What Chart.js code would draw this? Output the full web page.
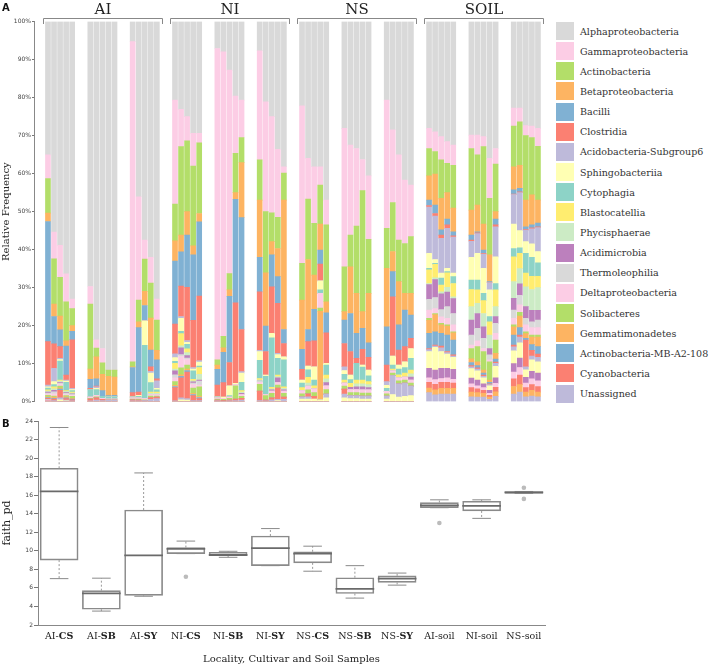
<!DOCTYPE html>
<html>
<head>
<meta charset="utf-8">
<script src="https://cdn.jsdelivr.net/npm/chart.js@4.4.1/dist/chart.umd.min.js"></script>
<style>
  html, body { margin: 0; padding: 0; background: #fff; }
  body { width: 710px; height: 668px; position: relative; overflow: hidden; }
  #chartA { position: absolute; left: 0; top: 0; }
  #chartB { position: absolute; left: 0; top: 405px; }
  #legend { position: absolute; left: 556px; top: 21px; font-family: 'DejaVu Serif', serif; font-size: 9.5px; color: #333; }
  .item { height: 20.15px; display: flex; align-items: center; white-space: nowrap; }
  .box { width: 18px; height: 18px; margin-right: 6px; flex: none; }
</style>
</head>
<body>
<canvas id="chartA" width="550" height="410"></canvas>
<div id="legend"></div>
<canvas id="chartB" width="550" height="263"></canvas>
<script>
// ---- panel A: relative frequency of bacterial classes, 5 samples per locality/cultivar ----
const groups = ['AI', 'NI', 'NS', 'SOIL'];
const subgroups = ['AI-CS', 'AI-SB', 'AI-SY', 'NI-CS', 'NI-SB', 'NI-SY', 'NS-CS', 'NS-SB', 'NS-SY', 'AI-soil', 'NI-soil', 'NS-soil'];

const taxa = ['Alphaproteobacteria', 'Gammaproteobacteria', 'Actinobacteria', 'Betaproteobacteria', 'Bacilli',
  'Clostridia', 'Acidobacteria-Subgroup6', 'Sphingobacteriia', 'Cytophagia', 'Blastocatellia', 'Phycisphaerae',
  'Acidimicrobia', 'Thermoleophilia', 'Deltaproteobacteria', 'Solibacteres', 'Gemmatimonadetes',
  'Actinobacteria-MB-A2-108', 'Cyanobacteria', 'Unassigned'];
const taxaColors = ['#d9d9d9', '#fccde5', '#b3de69', '#fdb462', '#80b1d3', '#fb8072', '#bebada', '#ffffb3',
  '#8dd3c7', '#ffed6f', '#ccebc5', '#bc80bd', '#d9d9d9', '#fccde5', '#b3de69', '#fdb462', '#80b1d3', '#fb8072', '#bebada'];
// smaller classes that are not named in the legend
const minorTaxa = ['Minor class 1', 'Minor class 2', 'Minor class 3', 'Minor class 4', 'Minor class 5', 'Minor class 6'];
const minorColors = ['#ffffb3', '#bc80bd', '#fccde5', '#fb8072', '#fdb462', '#bebada'];

// values in %, one line per group (AI, NI, NS, SOIL), 15 samples each
const alpha = [35.1, 55.4, 58.9, 66.4, 73.0, 69.7, 83.7, 86.0, 91.7, 91.7, 5.3, 46.1, 57.5, 62.0, 73.0,
  20.7, 23.1, 25.0, 29.4, 29.4, 7.1, 8.0, 12.8, 19.6, 20.7, 7.7, 21.1, 25.0, 33.6, 38.2,
  22.2, 36.0, 38.2, 38.2, 47.0, 28.1, 32.5, 33.4, 36.3, 40.6, 20.7, 28.5, 35.1, 41.7, 43.0,
  28.1, 29.0, 30.3, 31.6, 32.5, 29.9, 29.9, 30.3, 36.0, 33.4, 22.8, 22.8, 27.5, 27.5, 28.1];
const gamma = [6.2, 7.0, 8.4, 7.3, 2.5, 4.6, 2.2, 3.8, 0, 0, 84.2, 27.2, 5.0, 6.8, 5.5,
  27.3, 9.8, 6.4, 8.6, 2.5, 81.9, 74.8, 53.5, 15.1, 9.8, 28.7, 28.9, 25.3, 17.9, 1.7,
  41.4, 10.7, 14.9, 4.8, 6.5, 36.4, 23.7, 20.4, 8.2, 16.7, 33.7, 19.1, 22.4, 16.7, 13.6,
  5.3, 5.2, 6.1, 5.7, 5.3, 3.5, 5.2, 2.6, 10.5, 4.1, 4.7, 3.6, 2.6, 3.0, 4.7];
const actino = [9.1, 11.9, 10.2, 10.3, 4.5, 17.1, 2.3, 3.0, 1.6, 1.8, 1.3, 5.7, 8.5, 9.2, 8.0,
  9.7, 23.3, 18.6, 21.0, 18.6, 1.4, 3.0, 4.3, 10.3, 6.6, 10.6, 16.1, 7.6, 8.2, 7.1,
  9.7, 15.9, 13.6, 10.3, 20.2, 11.8, 8.3, 17.7, 31.8, 14.2, 10.5, 12.9, 10.9, 13.1, 14.9,
  7.2, 5.9, 10.1, 7.7, 11.3, 16.2, 13.2, 20.4, 14.9, 12.5, 10.7, 11.4, 17.0, 15.1, 14.2];
const beta = [2.2, 3.3, 3.6, 1.4, 1.5, 2.7, 5.8, 4.3, 5.1, 4.8, 0.2, 1.5, 3.7, 8.4, 2.5,
  5.3, 4.4, 6.2, 2.4, 2.2, 1.1, 1.2, 1.7, 1.8, 14.5, 15.0, 14.0, 3.5, 7.4, 34.0,
  12.9, 18.4, 9.0, 6.8, 2.9, 2.2, 12.3, 10.5, 4.4, 13.0, 15.4, 5.3, 11.4, 4.4, 5.7,
  6.4, 8.2, 8.3, 7.0, 6.2, 6.6, 7.0, 6.8, 7.0, 2.0, 6.1, 6.1, 7.0, 7.9, 6.0];
const bacilli = [31.6, 7.2, 4.4, 7.6, 2.2, 2.4, 1.9, 1.5, 0.3, 0.4, 6.6, 17.0, 4.0, 4.4, 5.0,
  16.6, 9.0, 13.7, 17.2, 19.5, 4.1, 8.0, 17.4, 27.2, 29.4, 9.1, 6.7, 8.4, 7.0, 3.7,
  5.3, 3.2, 8.3, 3.7, 5.3, 6.2, 10.0, 6.6, 5.5, 3.8, 10.1, 6.6, 6.6, 9.6, 6.1,
  1.4, 2.2, 1.4, 1.5, 1.1, 1.3, 0.3, 0.9, 0.2, 1.5, 1.1, 0.9, 0.7, 0.8, 1.0];
const clostridia = [11.4, 6.4, 3.1, 1.3, 12.8, 0.3, 0.2, 0, 0, 0, 1.1, 0.8, 0, 1.2, 0.5,
  7.8, 8.0, 14.0, 12.4, 17.0, 3.1, 3.8, 6.1, 21.2, 11.1, 15.4, 6.2, 12.2, 13.2, 3.5,
  2.8, 6.4, 6.8, 4.4, 8.0, 6.1, 6.2, 1.3, 4.2, 3.4, 4.3, 15.6, 4.0, 4.0, 2.7,
  0.4, 0.7, 0.8, 0.9, 0.3, 0.3, 0.2, 0.2, 0.1, 0.5, 0.1, 0.2, 0.2, 0.2, 0.2];
const acidoSg6 = [0.5, 3.5, 0.3, 0.3, 0.3, 0, 0.4, 0, 0, 0, 0, 0, 0, 0.5, 2.0,
  1.0, 0.5, 0.5, 0.4, 0.4, 0, 0, 0, 0, 0.4, 0.3, 0, 0, 0.3, 0,
  0, 0, 0, 0, 0, 1.0, 0, 0, 0, 0, 1.0, 0, 0, 0, 0,
  12.2, 11.4, 9.2, 10.5, 9.5, 4.2, 5.2, 3.7, 1.9, 7.9, 7.8, 10.0, 3.0, 4.0, 6.3];
const sphingo = [0.3, 0.8, 0.4, 0.3, 0.3, 0, 0.3, 0, 0, 0, 0, 0.3, 6.5, 2.5, 0.4,
  1.0, 3.4, 0.5, 0.5, 1.0, 0, 0.3, 2.6, 0.3, 2.4, 2.3, 0.3, 1.2, 1.0, 0.8,
  0.8, 1.0, 3.5, 2.4, 0.5, 1.0, 1.2, 0, 0.5, 1.5, 0.8, 2.4, 1.0, 1.5, 2.6,
  3.9, 1.0, 1.3, 0.9, 0.9, 6.0, 7.0, 6.6, 7.0, 7.0, 6.4, 4.5, 3.1, 3.5, 3.0];
const cytophagia = [0.5, 0.6, 5.0, 2.2, 0.4, 2.0, 1.5, 0.5, 0.6, 0.6, 0.3, 0.4, 14.0, 2.5, 0.6,
  0.5, 0.6, 1.2, 2.2, 0.4, 0.3, 0, 0.4, 0, 2.2, 4.8, 4.8, 13.0, 4.4, 7.1,
  1.2, 2.0, 1.5, 0.9, 2.6, 1.5, 1.0, 4.4, 3.4, 1.5, 0.8, 1.0, 1.5, 1.5, 3.1,
  0.4, 0.3, 1.8, 0.3, 1.8, 2.5, 2.6, 1.9, 1.4, 1.7, 2.2, 1.5, 5.2, 5.0, 3.5];
const blasto = [0.3, 0.5, 0.3, 0.2, 0.2, 0, 0, 0, 0, 0, 0, 0, 0, 0.3, 0.3,
  1.5, 3.2, 1.0, 0.4, 1.8, 0, 0, 0, 0, 0.4, 0.4, 0, 0.4, 0.4, 0.4,
  0.8, 1.5, 0.8, 0, 1.0, 0.8, 1.0, 1.0, 1.0, 0.8, 0, 0.5, 0.8, 1.0, 1.0,
  3.6, 3.5, 1.8, 3.8, 3.5, 4.5, 3.5, 3.4, 3.5, 4.4, 6.5, 4.0, 3.6, 3.5, 3.0];
const phycis = [0.3, 0.4, 0.3, 0.3, 0.2, 0, 0, 0, 0, 0, 0, 0, 0, 0.3, 0.3,
  0.5, 0.5, 0.8, 0.3, 1.5, 0, 0, 0, 0, 0.3, 0.3, 0, 0.3, 0.3, 0.4,
  0, 0.8, 0, 0, 1.0, 0, 0, 0.8, 0.8, 0.8, 0, 0, 0, 0, 0.8,
  0.3, 0.5, 0.5, 1.3, 0.5, 3.5, 2.7, 3.5, 3.5, 2.6, 4.4, 4.0, 5.2, 5.5, 6.0];
const acidimicrobia = [0.2, 0.4, 0.2, 0.2, 0.2, 0, 0, 0, 0, 0, 0, 0, 0, 0, 0,
  1.0, 1.8, 0.6, 0.3, 0.3, 0, 0, 0, 0, 0.3, 0, 0, 0.3, 1.3, 0.3,
  0, 0, 0, 0, 0.8, 0, 0.6, 0.7, 0.8, 0.6, 0, 0, 0, 0, 0.8,
  3.9, 4.7, 4.2, 3.8, 3.9, 4.0, 3.9, 3.0, 1.7, 1.8, 3.1, 3.0, 3.1, 3.0, 2.5];
const thermo = [0.3, 0.5, 0.3, 0.3, 0.2, 0, 0, 0, 0, 0, 0, 0, 0, 0, 0,
  0.8, 0.5, 0.4, 0.3, 1.0, 0, 0, 0, 0, 0, 0.3, 0, 0, 0, 0,
  0, 0, 0, 0, 0, 0, 0, 0, 0, 0, 0, 0, 0, 0, 0,
  2.8, 2.9, 1.9, 3.1, 3.0, 2.6, 3.3, 2.7, 1.3, 2.6, 2.2, 2.5, 1.7, 1.5, 2.0];
const delta = [0.3, 0.6, 0.5, 0.3, 0.3, 0.3, 0.4, 0.3, 0.3, 0.3, 0.3, 0.3, 0.3, 0.4, 0.4,
  1.0, 3.0, 1.5, 1.0, 0.5, 0.3, 0.3, 0.3, 0.3, 0.5, 0.5, 0.3, 0.6, 0.6, 0.6,
  0.8, 1.0, 1.0, 3.9, 1.0, 0.8, 0.8, 0.8, 0.8, 0.8, 0.6, 0.6, 0.8, 0.8, 0.8,
  2.2, 1.3, 1.7, 1.7, 1.8, 0.9, 1.5, 0.8, 0.5, 1.8, 1.7, 2.0, 1.8, 2.0, 2.0];
const solibacteres = [0.4, 0.3, 0.5, 0.3, 0.5, 0.2, 0.3, 0, 0, 0, 0.2, 0.3, 0.2, 0.4, 0.3,
  1.0, 1.8, 1.0, 1.4, 2.5, 0.3, 0.3, 0.5, 3.5, 0.5, 1.8, 1.2, 1.2, 0.8, 1.0,
  0.8, 1.0, 1.0, 0.8, 1.2, 0.8, 0.8, 0.8, 0.8, 0.8, 0.6, 0.6, 0.8, 0.8, 0.8,
  0.5, 0.3, 0.4, 0.3, 0.3, 2.7, 4.0, 4.9, 4.8, 3.5, 0.5, 1.0, 0.5, 0.5, 0.5];
const gemma = [0.2, 0.3, 0.3, 0.3, 0.2, 0, 0, 0, 0, 0, 0, 0, 0, 0, 0,
  0.3, 0.4, 0.4, 0.3, 0.3, 0, 0, 0, 0, 0, 0, 0, 0, 0, 0,
  0, 0, 0, 23.3, 0, 0, 0, 0, 0, 0, 0, 0, 0, 0, 0,
  3.4, 4.5, 2.2, 2.4, 1.9, 1.0, 1.0, 0.8, 0.6, 1.5, 2.2, 3.0, 1.2, 2.0, 2.5];
const mbA2 = [0.2, 0.2, 0.3, 0.2, 0.2, 0, 0, 0, 0, 0, 0, 0, 0, 0, 0,
  0.3, 0.4, 0.4, 0.3, 0.3, 0, 0, 0, 0, 0, 0, 0, 0, 0, 0,
  0, 0, 0, 0, 0, 0, 0, 0, 0, 0, 0, 0, 0, 0, 0,
  4.0, 3.5, 3.4, 4.3, 3.9, 0.8, 0.6, 0.5, 0.4, 0.8, 2.6, 2.0, 0.5, 1.5, 2.0];
const cyano = [0.3, 0.4, 2.0, 0.4, 0.3, 0.5, 0.6, 0.3, 0, 0, 0.3, 0.2, 0, 0.5, 0.4,
  3.5, 5.3, 7.0, 1.3, 0.5, 0.2, 0.3, 0.2, 0.4, 0.5, 2.5, 0.2, 0.5, 3.0, 0.6,
  0, 0.8, 0.7, 0, 0, 1.3, 0, 0, 0, 0, 0, 0, 0, 0, 0,
  0.3, 0.3, 0.4, 0.3, 0.3, 0.3, 0.3, 0.3, 0.2, 0.3, 0.5, 0.5, 7.0, 1.5, 0.8];
const unassigned = [0.2, 0.3, 0.5, 0.2, 0.2, 0.2, 0.4, 0.3, 0.4, 0.4, 0.2, 0.2, 0.3, 0.6, 0.8,
  0.2, 0.5, 0.4, 0.3, 0.3, 0.2, 0, 0.2, 0.3, 0.4, 0.3, 0.2, 0.5, 0.3, 0.6,
  0.6, 0.6, 0, 0, 1.0, 1.0, 0.8, 0.8, 0.8, 0.8, 0.8, 5.0, 3.5, 3.5, 2.5,
  0.5, 0.3, 1.0, 0.4, 0.3, 0.5, 0.5, 0.4, 0.3, 0.8, 1.0, 1.5, 0.8, 1.0, 1.2];
const minor1 = [0.1, 0, 0.5, 0.2, 0, 0, 0, 0, 0, 0, 0, 0, 0, 0, 0,
  0, 0.5, 0.4, 0, 0, 0, 0, 0, 0, 0, 0, 0, 0, 0.3, 0,
  0.7, 0.7, 0.7, 0.5, 1.0, 1.0, 0.8, 0.8, 0.7, 0.7, 0.7, 1.9, 1.2, 1.4, 1.6,
  4.4, 6.0, 4.4, 3.7, 3.2, 2.5, 2.4, 1.6, 1.2, 3.0, 3.4, 4.0, 2.0, 3.0, 3.0];
const minor2 = [0.1, 0, 0, 0, 0, 0, 0, 0, 0, 0, 0, 0, 0, 0, 0,
  0, 0, 0, 0, 0, 0, 0, 0, 0, 0, 0, 0, 0, 0, 0,
  0, 0, 0, 0, 0, 0, 0, 0, 0, 0, 0, 0, 0, 0, 0,
  2.5, 2.5, 2.7, 2.5, 2.6, 1.5, 1.5, 1.0, 0.8, 1.5, 2.2, 2.5, 1.5, 2.0, 2.0];
const minor3 = [0.1, 0, 0, 0, 0, 0, 0, 0, 0, 0, 0, 0, 0, 0, 0,
  0, 0, 0, 0, 0, 0, 0, 0, 0, 0, 0, 0, 0, 0, 0,
  0, 0, 0, 0, 0, 0, 0, 0, 0, 0, 0, 0, 0, 0, 0,
  1.2, 1.2, 1.0, 1.2, 1.0, 1.0, 0.8, 0.7, 0.5, 1.0, 1.8, 2.0, 1.2, 1.5, 1.5];
const minor4 = [0.1, 0, 0, 0, 0, 0, 0, 0, 0, 0, 0, 0, 0, 0, 0,
  0, 0, 0, 0, 0, 0, 0, 0, 0, 0, 0, 0, 0, 0, 0,
  0, 0, 0, 0, 0, 0, 0, 0, 0, 0, 0, 0, 0, 0, 0,
  1.5, 1.5, 1.6, 1.6, 1.4, 1.2, 1.0, 0.8, 0.5, 1.2, 2.0, 2.5, 1.2, 1.5, 1.5];
const minor5 = [0, 0, 0, 0, 0, 0, 0, 0, 0, 0, 0, 0, 0, 0, 0,
  0, 0, 0, 0, 0, 0, 0, 0, 0, 0, 0, 0, 0, 0, 0,
  0, 0, 0, 0, 0, 0, 0, 0, 0, 0, 0, 0, 0, 0, 0,
  1.2, 1.3, 1.5, 1.5, 1.5, 1.2, 1.2, 1.0, 0.6, 1.2, 2.0, 2.0, 1.2, 1.5, 1.2];
const minor6 = [0, 0, 0, 0, 0, 0, 0, 0, 0, 0, 0, 0, 0, 0, 0,
  0, 0, 0, 0, 0, 0, 0, 0, 0, 0, 0, 0, 0, 0, 0,
  0, 0, 0, 0, 0, 0, 0, 0, 0, 0, 0, 0, 0, 0, 0,
  2.4, 1.8, 2.0, 2.0, 2.0, 1.3, 1.2, 1.2, 0.6, 1.4, 2.0, 2.5, 1.3, 1.5, 1.3];

const taxaValues = [alpha, gamma, actino, beta, bacilli, clostridia, acidoSg6, sphingo, cytophagia, blasto,
  phycis, acidimicrobia, thermo, delta, solibacteres, gemma, mbA2, cyano, unassigned];
const minorValues = [minor1, minor2, minor3, minor4, minor5, minor6];

// ---- panel B: faith_pd box plots ----
const boxLabels = subgroups;
const boxBold = [true, true, true, true, true, true, true, true, true, false, false, false];
const boxLow = [7.0, 3.5, 5.1, 9.7, 9.3, 8.4, 7.8, 4.9, 6.3, 14.65, 13.5, 16.2];
const boxQ1 = [9.0, 3.7, 5.2, 9.7, 9.5, 8.4, 8.7, 5.4, 6.6, 14.65, 14.3, 16.2];
const boxMedian = [16.4, 5.4, 9.5, 10.2, 9.55, 10.3, 9.7, 5.9, 7.0, 14.9, 14.85, 16.3];
const boxQ3 = [18.9, 5.7, 14.4, 10.35, 9.85, 11.6, 9.9, 7.1, 7.3, 15.2, 15.35, 16.4];
const boxHigh = [23.3, 7.05, 18.4, 11.05, 9.95, 12.4, 10.5, 8.4, 7.6, 15.5, 15.5, 16.4];
const outlierBox = [3, 9, 11, 11];
const outlierValue = [7.2, 13.0, 16.8, 15.6];

Chart.defaults.font.family = 'DejaVu Sans';
Chart.defaults.color = '#444';

// slot positions on a linear x axis: 5 samples, then a 2-slot gap
const slotOf = i => Math.floor(i / 5) * 7 + (i % 5);

const datasetsA = [];
const pushSeries = (label, color, values) => {
  datasetsA.push({
    label: label,
    data: values.map((v, i) => ({ x: slotOf(i), y: v })),
    backgroundColor: color,
    borderWidth: 0,
    barThickness: 5,
    clip: 0
  });
};
// bottom of the stack first: minor classes, then legend classes from the bottom up
for (let k = minorTaxa.length - 1; k >= 0; k--) pushSeries(minorTaxa[k], minorColors[k], minorValues[k]);
for (let k = taxa.length - 1; k >= 0; k--) pushSeries(taxa[k], taxaColors[k], taxaValues[k]);

const groupBrackets = {
  id: 'groupBrackets',
  afterDraw(chart) {
    const { ctx, scales: { x, y } } = chart;
    ctx.save();
    ctx.strokeStyle = '#888';
    ctx.lineWidth = 1;
    ctx.fillStyle = '#222';
    ctx.textAlign = 'center';
    ctx.font = '15px "DejaVu Serif"';
    groups.forEach((g, gi) => {
      const first = gi * 21, last = gi * 21 + 18;
      const x0 = Math.round(x.getPixelForValue(first - 0.9)) + 0.5;
      const x1 = Math.round(x.getPixelForValue(last + 0.85)) + 0.5;
      ctx.beginPath();
      ctx.moveTo(x0, 24); ctx.lineTo(x0, 18.5); ctx.lineTo(x1, 18.5); ctx.lineTo(x1, 24);
      ctx.stroke();
      ctx.fillText(g, (x0 + x1) / 2, 14);
    });
    ctx.font = '10px "DejaVu Serif"';
    ctx.translate(9, (y.top + y.bottom) / 2);
    ctx.rotate(-Math.PI / 2);
    ctx.fillText('Relative Frequency', 0, 0);
    ctx.restore();
    ctx.save();
    ctx.fillStyle = '#111';
    ctx.font = 'bold 10px "DejaVu Sans"';
    ctx.fillText('A', 2, 11);
    ctx.restore();
  }
};

new Chart(document.getElementById('chartA'), {
  type: 'bar',
  data: { datasets: datasetsA },
  options: {
    responsive: false,
    animation: false,
    layout: { padding: { top: 21.5, right: 6, bottom: 8.3, left: 0 } },
    plugins: { legend: { display: false }, tooltip: { enabled: false } },
    scales: {
      x: { type: 'linear', stacked: true, offset: false, min: -2.31, max: 82, display: false },
      y: {
        stacked: true, min: 0, max: 100,
        ticks: { stepSize: 10, callback: v => v + '%', font: { size: 6 }, color: '#444', padding: 1 },
        grid: { drawOnChartArea: false, tickLength: 2, color: '#777' },
        border: { color: '#888' },
        afterFit(scale) { scale.width = 34; }
      }
    }
  },
  plugins: [groupBrackets]
});

// HTML legend
const legendEl = document.getElementById('legend');
taxa.forEach((name, k) => {
  const row = document.createElement('div');
  row.className = 'item';
  const sw = document.createElement('span');
  sw.className = 'box';
  sw.style.background = taxaColors[k];
  const tx = document.createElement('span');
  tx.textContent = name;
  row.appendChild(sw);
  row.appendChild(tx);
  legendEl.appendChild(row);
});

// ---- panel B ----
const whiskers = [];
const caps = [];
boxLabels.forEach((_, i) => {
  whiskers.push({ x: i, y: boxQ3[i] }, { x: i, y: boxHigh[i] }, { x: i, y: null });
  whiskers.push({ x: i, y: boxQ1[i] }, { x: i, y: boxLow[i] }, { x: i, y: null });
  caps.push({ x: i - 0.22, y: boxHigh[i] }, { x: i + 0.22, y: boxHigh[i] }, { x: i, y: null });
  caps.push({ x: i - 0.22, y: boxLow[i] }, { x: i + 0.22, y: boxLow[i] }, { x: i, y: null });
});

const boxText = {
  id: 'boxText',
  afterDraw(chart) {
    const { ctx, scales: { x, y } } = chart;
    ctx.save();
    ctx.fillStyle = '#222';
    ctx.textAlign = 'left';
    boxLabels.forEach((lab, i) => {
      const cut = boxBold[i] ? lab.indexOf('-') + 1 : lab.length;
      const a = lab.slice(0, cut), b = lab.slice(cut);
      ctx.font = '9.5px "DejaVu Serif"';
      const wa = ctx.measureText(a).width;
      ctx.font = 'bold 9.5px "DejaVu Serif"';
      const wb = ctx.measureText(b).width;
      const sx = x.getPixelForValue(i) - (wa + wb) / 2;
      ctx.font = '9.5px "DejaVu Serif"';
      ctx.fillText(a, sx, 234);
      ctx.font = 'bold 9.5px "DejaVu Serif"';
      ctx.fillText(b, sx + wa, 234);
    });
    ctx.textAlign = 'center';
    ctx.font = '10px "DejaVu Serif"';
    ctx.fillText('Locality, Cultivar and Soil Samples', (x.left + x.right) / 2, 257);
    ctx.translate(10, (y.top + y.bottom) / 2);
    ctx.rotate(-Math.PI / 2);
    ctx.font = '11px "DejaVu Serif"';
    ctx.fillText('faith_pd', 0, 0);
    ctx.restore();
    ctx.save();
    ctx.fillStyle = '#111';
    ctx.font = 'bold 10px "DejaVu Sans"';
    ctx.fillText('B', 2, 22);
    ctx.restore();
  }
};

new Chart(document.getElementById('chartB'), {
  type: 'bar',
  data: {
    datasets: [
      {
        type: 'scatter', label: 'outliers',
        data: outlierBox.map((b, k) => ({ x: b, y: outlierValue[k] })),
        pointRadius: 2.3, pointBackgroundColor: '#bbb', pointBorderWidth: 0
      },
      {
        type: 'bar', label: 'median',
        data: boxMedian.map((m, i) => ({ x: i, y: [m - 0.06, m + 0.06] })),
        backgroundColor: '#6a6a6a', barThickness: 38, grouped: false
      },
      {
        type: 'line', label: 'caps', data: caps,
        borderColor: '#8a8a8a', borderWidth: 1, pointRadius: 0, spanGaps: false
      },
      {
        type: 'line', label: 'whiskers', data: whiskers,
        borderColor: '#999', borderWidth: 1, borderDash: [2, 2], pointRadius: 0, spanGaps: false
      },
      {
        type: 'bar', label: 'IQR',
        data: boxQ1.map((q, i) => ({ x: i, y: [q, boxQ3[i]] })),
        backgroundColor: 'rgba(255,255,255,0)', borderColor: '#8a8a8a', borderWidth: 1,
        borderSkipped: false, barThickness: 38, grouped: false
      }
    ]
  },
  options: {
    responsive: false,
    animation: false,
    layout: { padding: { top: 16, right: 5, bottom: 43, left: 0 } },
    plugins: { legend: { display: false }, tooltip: { enabled: false } },
    scales: {
      x: {
        type: 'linear', offset: false, min: -0.5, max: 11.5,
        ticks: { display: false }, grid: { display: false },
        border: { display: true, color: '#888' },
        afterFit(scale) { scale.height = 0; }
      },
      y: {
        min: 2, max: 24,
        ticks: { stepSize: 2, font: { size: 6 }, color: '#444', padding: 1 },
        grid: { drawOnChartArea: false, tickLength: 4, color: '#777' },
        border: { color: '#888' },
        afterFit(scale) { scale.width = 38; }
      }
    }
  },
  plugins: [boxText]
});
</script>
</body>
</html>
